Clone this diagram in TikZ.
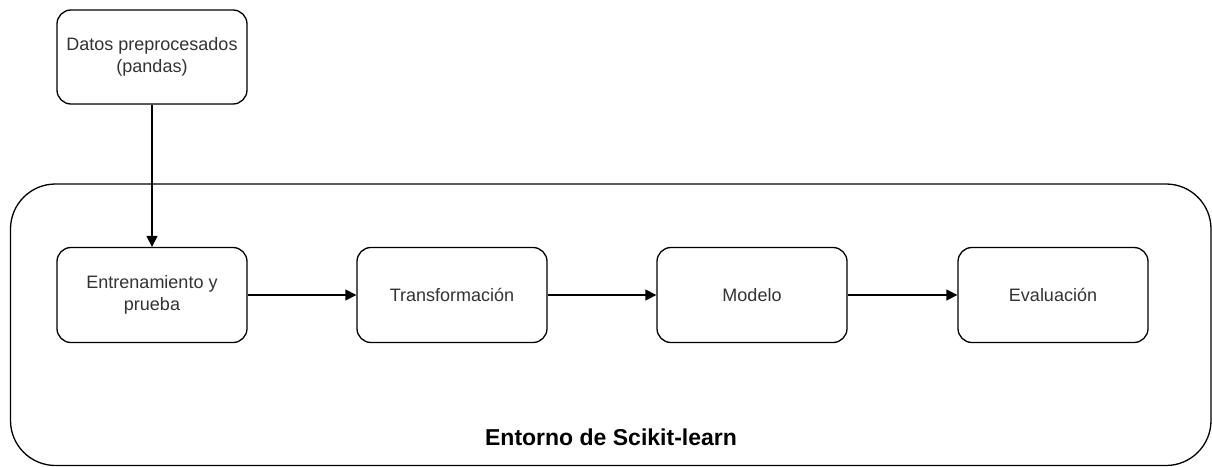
\documentclass[tikz,border=0pt]{standalone}
\usepackage{fontspec}
\setmainfont{Liberation Sans}
\usetikzlibrary{arrows.meta}
\definecolor{labelgray}{HTML}{333333}
\begin{document}
\begin{tikzpicture}[x=1pt,y=-1pt,
  stepbox/.style={draw=black,line width=1.3pt,rounded corners=14pt,fill=white,
    minimum width=190pt,minimum height=95pt,inner sep=0pt,align=center,
    text=labelgray,font=\fontsize{18}{22}\selectfont},
  flow/.style={draw=black,line width=1.3pt,-{Triangle[length=11pt,width=11pt]}}]
\useasboundingbox (0,0) rectangle (1212,466);
% surrounding environment
\draw[line width=1.3pt,rounded corners=45pt] (10.5,184) rectangle (1211,465.5);
\node[font=\bfseries\fontsize{23}{27}\selectfont] (env) at (611,437) {Entorno de Scikit-learn};
% input data
\node[stepbox,minimum height=94pt] (datos) at (152,57) {Datos preprocesados\\(pandas)};
% pipeline
\node[stepbox] (train) at (152,295) {Entrenamiento y\\prueba};
\node[stepbox] (trans) at (452,295) {Transformación};
\node[stepbox] (model) at (752,295) {Modelo};
\node[stepbox] (eval) at (1053,295) {Evaluación};
\draw[flow] (datos) -- (train);
\draw[flow] (train) -- (trans);
\draw[flow] (trans) -- (model);
\draw[flow] (model) -- (eval);
\end{tikzpicture}
\end{document}
